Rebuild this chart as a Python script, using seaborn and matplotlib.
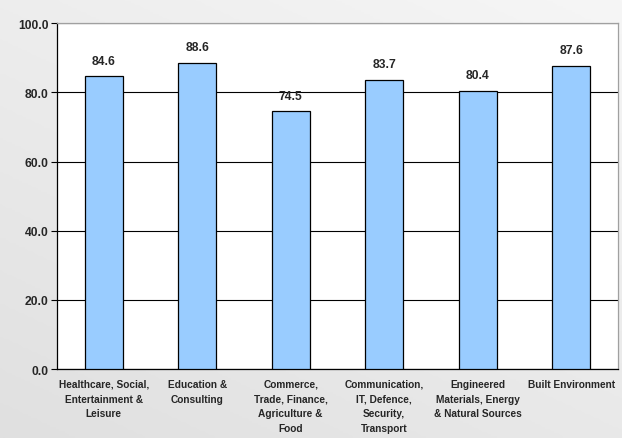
import matplotlib
matplotlib.use("Agg")
import matplotlib.pyplot as plt
import seaborn as sns
import numpy as np
import pandas as pd

categories = [
    "Healthcare, Social,\nEntertainment &\nLeisure",
    "Education &\nConsulting",
    "Commerce,\nTrade, Finance,\nAgriculture &\nFood",
    "Communication,\nIT, Defence,\nSecurity,\nTransport",
    "Engineered\nMaterials, Energy\n& Natural Sources",
    "Built Environment",
]
values = [84.6, 88.6, 74.5, 83.7, 80.4, 87.6]
yticks = [0, 20, 40, 60, 80, 100]

sns.set_style("white")
plt.rcParams['font.family'] = ['Liberation Sans', 'DejaVu Sans']

df = pd.DataFrame({"cat": categories, "val": values})

fig = plt.figure(figsize=(6.22, 4.39), dpi=100)
# background gradient
bg = fig.add_axes([0, 0, 1, 1], zorder=-10)
gx, gy = np.meshgrid(np.linspace(0, 1, 200), np.linspace(0, 1, 200))
grad = 0.4 * gx + 0.6 * (1 - gy)
bg.imshow(grad, cmap=matplotlib.colors.LinearSegmentedColormap.from_list("g", ["#e0e0e0", "#f6f6f6"]),
          extent=[0, 1, 0, 1], aspect="auto", origin="upper")
bg.axis("off")

ax = fig.add_axes([0.0916, 0.157, 0.902, 0.788])
ax.set_facecolor("white")
sns.barplot(data=df, x="cat", y="val", ax=ax, color="#99CCFF", saturation=1,
            width=0.41, edgecolor="black", linewidth=0.9, zorder=3)

ax.set_ylim(0, 100)
ax.set_xlim(-0.5, len(categories) - 0.5)
ax.set_yticks(yticks)
ax.set_yticklabels([f"{t:.1f}" for t in yticks], fontsize=8.7, fontweight="bold")
ax.yaxis.grid(True, color="black", linewidth=0.8, zorder=0)
ax.set_axisbelow(True)
ax.set_xlabel("")
ax.set_ylabel("")
ax.set_xticks(range(len(categories)))
ax.set_xticklabels(categories, fontsize=7.3, fontweight="bold", linespacing=1.6)
ax.tick_params(axis="x", which="major", length=0, pad=7)
ax.set_xticks(np.arange(-0.5, len(categories), 1.0), minor=True)
ax.tick_params(axis="x", which="minor", length=4, width=0.8, color="black", direction="out")
ax.tick_params(axis="y", length=4, width=0.8, color="black", direction="out", left=True, pad=2)

for s in ["left", "bottom"]:
    ax.spines[s].set_color("black")
    ax.spines[s].set_linewidth(0.9)
for s in ["top", "right"]:
    ax.spines[s].set_color("#a0a0a0")
    ax.spines[s].set_linewidth(0.9)

for i, v in enumerate(values):
    ax.annotate(f"{v:.1f}", (i, v), xytext=(0, 7), textcoords="offset points",
                ha="center", va="bottom", fontsize=8.7, fontweight="bold")

fig.savefig("out.png", dpi=100)
